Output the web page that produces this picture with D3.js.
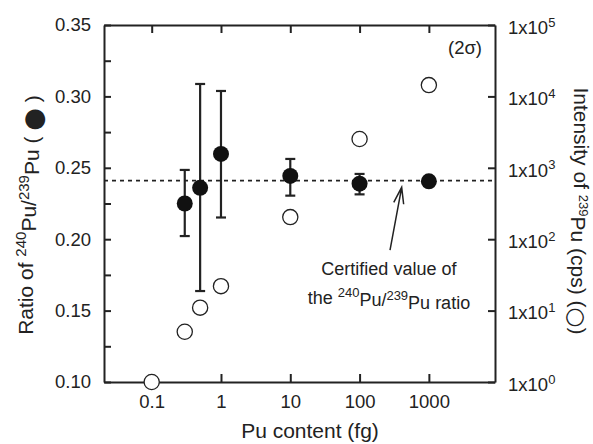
<!DOCTYPE html>
<html>
<head>
<meta charset="utf-8">
<script src="https://cdn.jsdelivr.net/npm/d3@7"></script>
<style>
  body { margin: 0; background: #fff; }
  text { font-family: "Liberation Sans", Arial, sans-serif; fill: #222; }
</style>
</head>
<body>
<div id="chart"></div>
<script>
// Pu content (fg) for each measurement
const content = [0.1, 0.3, 0.5, 1, 10, 100, 1000];
// 240Pu/239Pu ratio, with 2 sigma bounds (no bars at 1000 fg)
const ratioContent = [0.3, 0.5, 1, 10, 100, 1000];
const ratio = [0.225, 0.236, 0.2597, 0.2443, 0.2389, 0.2405];
const ratioLow = [0.2022, 0.1637, 0.2152, 0.2305, 0.2314, null];
const ratioHigh = [0.2485, 0.3087, 0.3038, 0.2562, 0.2457, null];
// 239Pu intensity (cps)
const intensity = [1, 5.06, 11, 22, 204, 2530, 14400];
const certified = 0.241;

const xTicks = [0.1, 1, 10, 100, 1000];
const leftTicks = d3.range(0.10, 0.3501, 0.025);
const rightTicks = [1, 10, 100, 1000, 10000, 100000];

const margin = { top: 25, right: 98, bottom: 62, left: 104 };
const width = 593 - margin.left - margin.right;
const height = 444 - margin.top - margin.bottom;

const root = d3.select("#chart").append("svg")
  .attr("width", 593)
  .attr("height", 444);
const svg = root.append("g")
  .attr("transform", `translate(${margin.left},${margin.top})`);

const x = d3.scaleLog().domain([0.0205, 9000]).range([0, width]);
const yL = d3.scaleLinear().domain([0.10, 0.35]).range([height, 0]);
const yR = d3.scaleLog().domain([1, 100000]).range([height, 0]);

function styleAxis(g) {
  g.select(".domain").attr("stroke", "#222").attr("stroke-width", 2);
  g.selectAll(".tick line").attr("stroke", "#222").attr("stroke-width", 2);
  g.selectAll(".tick text").style("font-size", "18.5px").attr("fill", "#222");
}

svg.append("g")
  .attr("transform", `translate(0,${height})`)
  .call(d3.axisBottom(x).tickValues(xTicks).tickSizeInner(-8).tickSizeOuter(0)
    .tickPadding(13).tickFormat(d => String(d)))
  .call(styleAxis);

svg.append("g")
  .call(d3.axisTop(x).tickValues(xTicks).tickSizeInner(-8).tickSizeOuter(0).tickFormat(""))
  .call(styleAxis);

svg.append("g")
  .call(d3.axisLeft(yL).tickValues(leftTicks).tickSizeInner(-7).tickSizeOuter(0)
    .tickPadding(13)
    .tickFormat(d => Math.round(d * 1000) % 50 === 0 ? d3.format(".2f")(d) : ""))
  .call(styleAxis);

const right = svg.append("g")
  .attr("transform", `translate(${width},0)`)
  .call(d3.axisRight(yR).tickValues(rightTicks).tickSizeInner(-7).tickSizeOuter(0)
    .tickPadding(13).tickFormat(d => ""))
  .call(styleAxis);

right.selectAll(".tick text").each(function(d) {
  const t = d3.select(this).attr("dy", "0.45em");
  t.append("tspan").text("1x10");
  t.append("tspan").attr("dy", "-0.55em").style("font-size", "13px")
    .text(Math.round(Math.log10(d)));
});

// certified value line
svg.append("line")
  .attr("x1", 0).attr("x2", width)
  .attr("y1", yL(certified)).attr("y2", yL(certified))
  .attr("stroke", "#222").attr("stroke-width", 1.6)
  .attr("stroke-dasharray", "4,4");

// error bars
const errs = ratioContent.map((c, i) => ({ c, lo: ratioLow[i], hi: ratioHigh[i] }))
  .filter(d => d.lo != null);
const eb = svg.selectAll(".err").data(errs).enter().append("g")
  .attr("stroke", "#222").attr("stroke-width", 2.2);
eb.append("line")
  .attr("x1", d => x(d.c)).attr("x2", d => x(d.c))
  .attr("y1", d => yL(d.lo)).attr("y2", d => yL(d.hi));
eb.append("line")
  .attr("x1", d => x(d.c) - 5).attr("x2", d => x(d.c) + 5)
  .attr("y1", d => yL(d.lo)).attr("y2", d => yL(d.lo));
eb.append("line")
  .attr("x1", d => x(d.c) - 5).attr("x2", d => x(d.c) + 5)
  .attr("y1", d => yL(d.hi)).attr("y2", d => yL(d.hi));

// open circles: intensity
svg.selectAll(".open").data(content).enter().append("circle")
  .attr("cx", d => x(d))
  .attr("cy", (d, i) => yR(intensity[i]))
  .attr("r", 7.6)
  .attr("fill", "#fff").attr("stroke", "#222").attr("stroke-width", 1.3);

// filled circles: ratio
svg.selectAll(".filled").data(ratioContent).enter().append("circle")
  .attr("cx", d => x(d))
  .attr("cy", (d, i) => yL(ratio[i]))
  .attr("r", 8)
  .attr("fill", "#111");

// 2 sigma label
svg.append("text")
  .attr("x", width - 13).attr("y", 29)
  .attr("text-anchor", "end")
  .style("font-size", "18.5px")
  .text("(2σ)");

// annotation arrow
const tip = [x(405), yL(0.2363)];
const tail = [x(275), yL(0.1924)];
const ang = Math.atan2(tail[1] - tip[1], tail[0] - tip[0]);
const headLen = 17, spread = 0.3;
svg.append("path")
  .attr("d", `M${tail[0]},${tail[1]}L${tip[0]},${tip[1]}` +
    `M${tip[0] + headLen * Math.cos(ang - spread)},${tip[1] + headLen * Math.sin(ang - spread)}` +
    `L${tip[0]},${tip[1]}` +
    `L${tip[0] + headLen * Math.cos(ang + spread)},${tip[1] + headLen * Math.sin(ang + spread)}`)
  .attr("fill", "none").attr("stroke", "#222").attr("stroke-width", 1.5);

const ann = svg.append("text")
  .attr("x", x(265)).attr("y", yL(0.1746))
  .attr("text-anchor", "middle")
  .style("font-size", "18px");
ann.append("tspan").text("Certified value of");
const ann2 = svg.append("text")
  .attr("x", x(265)).attr("y", yL(0.1548))
  .attr("text-anchor", "middle")
  .style("font-size", "18px");
ann2.append("tspan").text("the ");
ann2.append("tspan").attr("dy", "-0.5em").style("font-size", "13px").text("240");
ann2.append("tspan").attr("dy", "0.5em").text("Pu/");
ann2.append("tspan").attr("dy", "-0.5em").style("font-size", "13px").text("239");
ann2.append("tspan").attr("dy", "0.5em").text("Pu ratio");

// axis titles
root.append("text")
  .attr("x", 310).attr("y", 438)
  .attr("text-anchor", "middle")
  .style("font-size", "21px")
  .text("Pu content (fg)");

const lt = root.append("text")
  .attr("transform", "translate(33,215) rotate(-90)")
  .attr("text-anchor", "middle")
  .style("font-size", "21px");
lt.append("tspan").text("Ratio of ");
lt.append("tspan").attr("dy", "-0.5em").style("font-size", "15px").text("240");
lt.append("tspan").attr("dy", "0.5em").text("Pu/");
lt.append("tspan").attr("dy", "-0.5em").style("font-size", "15px").text("239");
lt.append("tspan").attr("dy", "0.5em").text("Pu ( ");
lt.append("tspan").attr("dy", "0.1em").style("font-size", "26px")
  .style("font-family", "DejaVu Sans").text("●");
lt.append("tspan").attr("dy", "-0.1em").text(" )");

const rt = root.append("text")
  .attr("transform", "translate(574,211) rotate(90)")
  .attr("text-anchor", "middle")
  .style("font-size", "21px");
rt.append("tspan").text("Intensity of ");
rt.append("tspan").attr("dy", "-0.4em").style("font-size", "13px").text("239");
rt.append("tspan").attr("dy", "0.4em").text("Pu (cps) (");
rt.append("tspan").attr("dy", "0.08em").style("font-size", "23px")
  .style("font-family", "DejaVu Sans").text("○");
rt.append("tspan").attr("dy", "-0.08em").text(")");
</script>
</body>
</html>
